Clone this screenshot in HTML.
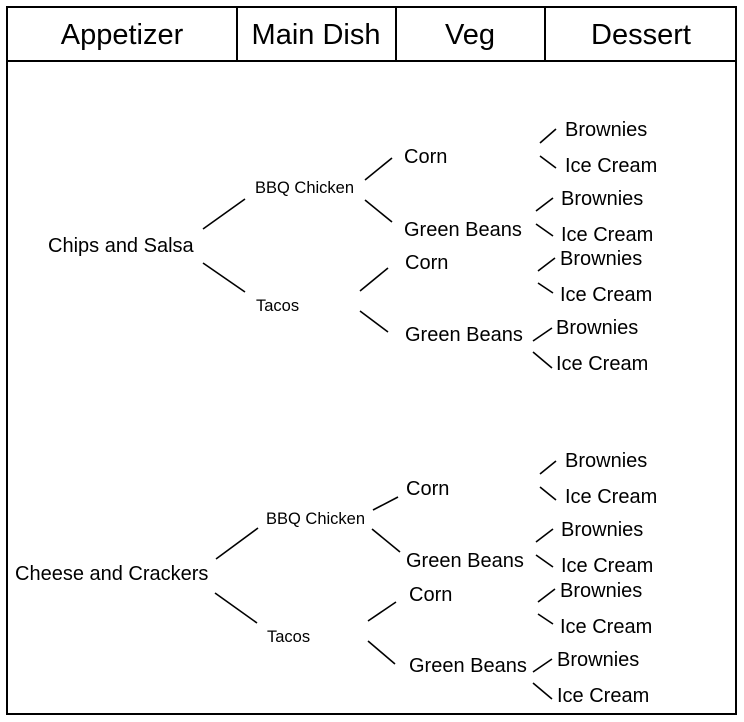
<!DOCTYPE html>
<html><head><meta charset="utf-8"><style>
html,body{margin:0;padding:0;background:#fff;}
svg{display:block;}
text{font-family:"Liberation Sans",Arial,sans-serif;fill:#000;dominant-baseline:central;}
</style></head><body>
<svg width="744" height="722" viewBox="0 0 744 722" xmlns="http://www.w3.org/2000/svg">
<rect x="7" y="7" width="729" height="707" fill="#fff" stroke="#000" stroke-width="2"/>
<line x1="7" y1="61" x2="736" y2="61" stroke="#000" stroke-width="2"/>
<line x1="237" y1="7" x2="237" y2="61" stroke="#000" stroke-width="2"/>
<line x1="396" y1="7" x2="396" y2="61" stroke="#000" stroke-width="2"/>
<line x1="545" y1="7" x2="545" y2="61" stroke="#000" stroke-width="2"/>
<g font-size="29" text-anchor="middle">
<text x="122" y="35">Appetizer</text>
<text x="316" y="35">Main Dish</text>
<text x="470" y="35">Veg</text>
<text x="641" y="35">Dessert</text>
</g>
<g stroke="#000" stroke-width="1.6" fill="none">
<!-- top tree -->
<line x1="203" y1="229" x2="245" y2="199"/>
<line x1="203" y1="263" x2="245" y2="292"/>
<line x1="365" y1="180" x2="392" y2="158"/>
<line x1="365" y1="200" x2="392" y2="222"/>
<line x1="360" y1="291" x2="388" y2="268"/>
<line x1="360" y1="311" x2="388" y2="332"/>
<line x1="540" y1="143" x2="556" y2="129"/>
<line x1="540" y1="156" x2="556" y2="168"/>
<line x1="536" y1="211" x2="553" y2="198"/>
<line x1="536" y1="224" x2="553" y2="236"/>
<line x1="538" y1="271" x2="555" y2="258"/>
<line x1="538" y1="283" x2="553" y2="293"/>
<line x1="533" y1="341" x2="552" y2="328"/>
<line x1="533" y1="352" x2="552" y2="368"/>
<!-- bottom tree -->
<line x1="216" y1="559" x2="258" y2="528"/>
<line x1="215" y1="593" x2="257" y2="623"/>
<line x1="373" y1="510" x2="398" y2="497"/>
<line x1="372" y1="529" x2="400" y2="552"/>
<line x1="368" y1="621" x2="396" y2="602"/>
<line x1="368" y1="641" x2="395" y2="664"/>
<line x1="540" y1="474" x2="556" y2="461"/>
<line x1="540" y1="487" x2="556" y2="500"/>
<line x1="536" y1="542" x2="553" y2="529"/>
<line x1="536" y1="555" x2="553" y2="567"/>
<line x1="538" y1="602" x2="555" y2="589"/>
<line x1="538" y1="614" x2="553" y2="624"/>
<line x1="533" y1="672" x2="552" y2="659"/>
<line x1="533" y1="683" x2="552" y2="699"/>
</g>
<g font-size="20">
<text x="48" y="246">Chips and Salsa</text>
<text x="404" y="157">Corn</text>
<text x="404" y="230">Green Beans</text>
<text x="405" y="263">Corn</text>
<text x="405" y="335">Green Beans</text>
<text x="565" y="130">Brownies</text>
<text x="565" y="166">Ice Cream</text>
<text x="561" y="199">Brownies</text>
<text x="561" y="235">Ice Cream</text>
<text x="560" y="259">Brownies</text>
<text x="560" y="295">Ice Cream</text>
<text x="556" y="328">Brownies</text>
<text x="556" y="364">Ice Cream</text>

<text x="15" y="574">Cheese and Crackers</text>
<text x="406" y="489">Corn</text>
<text x="406" y="561">Green Beans</text>
<text x="409" y="595">Corn</text>
<text x="409" y="666">Green Beans</text>
<text x="565" y="461">Brownies</text>
<text x="565" y="497">Ice Cream</text>
<text x="561" y="530">Brownies</text>
<text x="561" y="566">Ice Cream</text>
<text x="560" y="591">Brownies</text>
<text x="560" y="627">Ice Cream</text>
<text x="557" y="660">Brownies</text>
<text x="557" y="696">Ice Cream</text>
</g>
<g font-size="16.5">
<text x="255" y="188">BBQ Chicken</text>
<text x="256" y="306">Tacos</text>
<text x="266" y="519">BBQ Chicken</text>
<text x="267" y="637">Tacos</text>
</g>
</svg>
</body></html>
